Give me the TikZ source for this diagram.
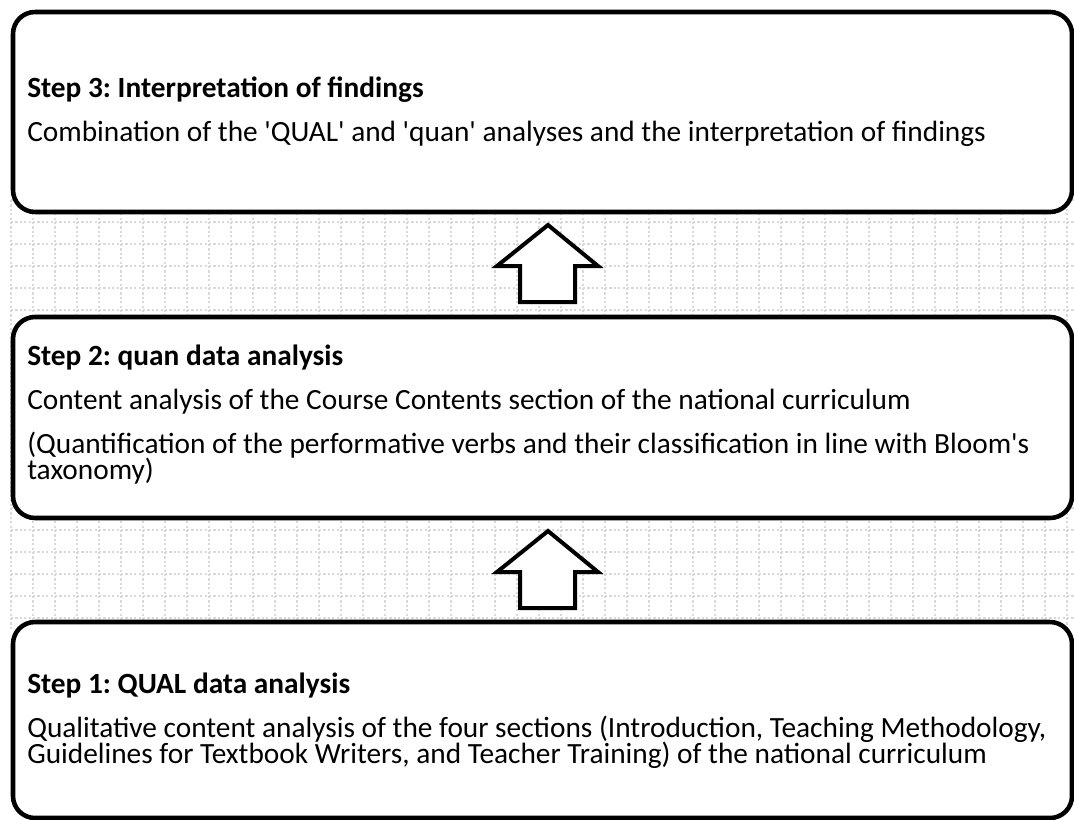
\documentclass[tikz,border=0pt]{standalone}
\usepackage{fontspec}
\setmainfont{Carlito}
\frenchspacing
\tikzset{
  gridline/.style={draw=black!15, line width=1.5pt, dash pattern=on 1.65pt off 1.65pt},
  stepbox/.style={draw=black, fill=white, line width=3.4pt, rounded corners=16.5pt, rectangle, inner sep=0pt},
  blockarrow/.style={draw=black, fill=white, line width=3pt, line join=miter},
  txt/.style={anchor=base west, inner sep=0pt, font=\fontsize{22pt}{26pt}\selectfont},
  hd/.style={txt, font=\fontsize{22pt}{26pt}\selectfont\bfseries}
}
\begin{document}
\begin{tikzpicture}[x=0.75pt,y=-0.75pt]
\useasboundingbox (0,0) rectangle (1074,820);
\clip (0,0) rectangle (1074,820);
\fill[white] (0,0) rectangle (1074,820);
% background grid (visible between the boxes)
\foreach \i in {0,...,48} {\draw[gridline] (11+22*\i,200) -- (11+22*\i,630);}
\foreach \j in {9,...,28} {\draw[gridline] (11,2+22*\j) -- (1074,2+22*\j);}
% boxes
\node[stepbox, minimum width=794.25pt, minimum height=150pt] (box3) at (542.5,112) {};
\node[stepbox, minimum width=794.25pt, minimum height=150.75pt] (box2) at (542.5,417.5) {};
\node[stepbox, minimum width=794.25pt, minimum height=147pt] (box1) at (542.5,720) {};
% arrows
\coordinate (tip1) at (548,225);
\coordinate (tip2) at (548,531);
\draw[blockarrow] (tip1) -- ++(-51,41) -- ++(23,0) -- ++(0,36) -- ++(55,0) -- ++(0,-36) -- ++(23,0) -- cycle;
\draw[blockarrow] (tip2) -- ++(-51,41) -- ++(23,0) -- ++(0,36) -- ++(55,0) -- ++(0,-36) -- ++(23,0) -- cycle;
% text step 3
\node[hd] (t3h) at (27,98) {Step 3: Interpretation of findings};
\node[txt] (t3a) at (27,142) {Combination of the \textquotesingle QUAL\textquotesingle\ and \textquotesingle quan\textquotesingle\ analyses and the interpretation of findings};
% text step 2
\node[hd] (t2h) at (27,365) {Step 2: quan data analysis};
\node[txt] (t2a) at (27,409) {Content analysis of the Course Contents section of the national curriculum};
\node[txt] (t2b) at (27,453) {(Quantification of the performative verbs and their classification in line with Bloom\textquotesingle s};
\node[txt] (t2c) at (27,479) {taxonomy)};
% text step 1
\node[hd] (t1h) at (27,693) {Step 1: QUAL data analysis};
\node[txt] (t1a) at (27,737) {Qualitative content analysis of the four sections (Introduction, Teaching Methodology,};
\node[txt] (t1b) at (27,763) {Guidelines for Textbook Writers, and Teacher Training) of the national curriculum};
\end{tikzpicture}
\end{document}
